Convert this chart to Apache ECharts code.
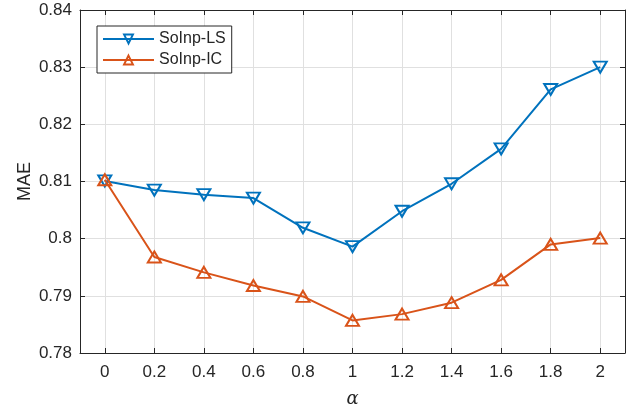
<!DOCTYPE html>
<html><head><meta charset="utf-8">
<script src="https://cdn.jsdelivr.net/npm/echarts@6/dist/echarts.min.js"></script>
<style>html,body{margin:0;padding:0;background:#fff}#c{width:638px;height:413px}</style>
</head><body><div id="c"></div>
<script>
const alphaValues = [0, 0.2, 0.4, 0.6, 0.8, 1.0, 1.2, 1.4, 1.6, 1.8, 2.0];
const xTicks = [0, 0.2, 0.4, 0.6, 0.8, 1, 1.2, 1.4, 1.6, 1.8, 2];
const soinpLS = [0.8101, 0.8085, 0.8077, 0.8071, 0.8019, 0.7986, 0.8048, 0.8096, 0.8157, 0.8261, 0.8300];
const soinpIC = [0.8103, 0.7968, 0.7941, 0.7918, 0.7899, 0.7857, 0.7868, 0.7888, 0.7928, 0.7990, 0.8001];
const seriesNames = ['SoInp-LS', 'SoInp-IC'];

const axisCol = '#262626';
const gridCol = '#e0e0e0';
const font = 'Liberation Sans, Arial, sans-serif';
const blue = '#0072BD', orange = '#D95319';

function pairs(ys){ return alphaValues.map((x,i)=>[x, ys[i]]); }

const chart = echarts.init(document.getElementById('c'));
chart.setOption({
  animation: false,
  backgroundColor: '#fff',
  grid: {left: 80, top: 10, right: 13, bottom: 57, containLabel: false},
  legend: {
    orient: 'vertical', left: 97, top: 26,
    backgroundColor: '#fff', borderColor: axisCol, borderWidth: 1,
    padding: [5, 6, 5, 5], itemGap: 5, itemWidth: 51, itemHeight: 11,
    textStyle: {fontFamily: font, fontSize: 16, color: axisCol},
    data: seriesNames
  },
  xAxis: [{
    type: 'value', min: -0.1, max: 2.1, position: 'bottom',
    name: 'α', nameLocation: 'middle', nameGap: 37,
    nameTextStyle: {fontFamily: 'DejaVu Serif, Liberation Serif, serif', fontStyle: 'italic', fontSize: 18, color: axisCol},
    axisLine: {show: true, onZero: false, lineStyle: {color: axisCol, width: 1}},
    axisTick: {show: true, inside: true, length: 5, customValues: xTicks, lineStyle: {color: axisCol}},
    axisLabel: {customValues: xTicks, margin: 11, fontFamily: font, fontSize: 17, color: axisCol},
    splitLine: {show: true, lineStyle: {color: gridCol, width: 1}}
  }, {
    type: 'value', min: -0.1, max: 2.1, position: 'top',
    axisLine: {show: true, onZero: false, lineStyle: {color: axisCol, width: 1}},
    axisTick: {show: true, inside: true, length: 5, customValues: xTicks, lineStyle: {color: axisCol}},
    axisLabel: {show: false, customValues: xTicks},
    splitLine: {show: false}
  }],
  yAxis: [{
    type: 'value', min: 0.78, max: 0.84, interval: 0.01, position: 'left',
    name: 'MAE', nameLocation: 'middle', nameGap: 46, nameMoveOverlap: false,
    nameTextStyle: {fontFamily: font, fontSize: 18, color: axisCol},
    axisLine: {show: true, onZero: false, lineStyle: {color: axisCol, width: 1}},
    axisTick: {show: true, inside: true, length: 5, lineStyle: {color: axisCol}},
    axisLabel: {margin: 8, fontFamily: font, fontSize: 17, color: axisCol},
    splitLine: {show: true, lineStyle: {color: gridCol, width: 1}}
  }, {
    type: 'value', min: 0.78, max: 0.84, interval: 0.01, position: 'right',
    axisLine: {show: true, onZero: false, lineStyle: {color: axisCol, width: 1}},
    axisTick: {show: true, inside: true, length: 5, lineStyle: {color: axisCol}},
    axisLabel: {show: false},
    splitLine: {show: false}
  }],
  series: [{
    name: seriesNames[0], type: 'line', data: pairs(soinpLS),
    symbol: 'triangle', symbolRotate: 180, symbolSize: [13, 11], showAllSymbol: true,
    lineStyle: {color: blue, width: 2},
    itemStyle: {color: 'rgba(255,255,255,0)', borderColor: blue, borderWidth: 2},
    z: 3
  }, {
    name: seriesNames[1], type: 'line', data: pairs(soinpIC),
    symbol: 'triangle', symbolSize: [13, 11], showAllSymbol: true,
    lineStyle: {color: orange, width: 2},
    itemStyle: {color: 'rgba(255,255,255,0)', borderColor: orange, borderWidth: 2},
    z: 4
  }]
});
</script></body></html>
